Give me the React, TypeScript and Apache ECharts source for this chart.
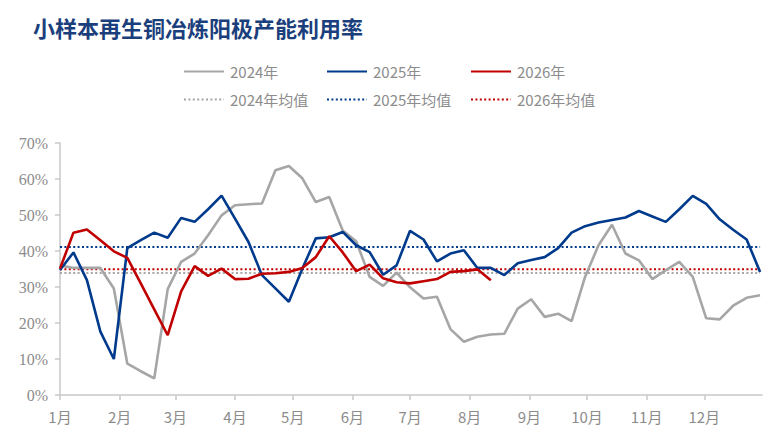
import React, { useEffect, useRef } from "react";
import * as echarts from "echarts";

const TITLE = "小样本再生铜冶炼阳极产能利用率";

const monthLabels = ["1月", "2月", "3月", "4月", "5月", "6月", "7月", "8月", "9月", "10月", "11月", "12月"];
const monthStartDays = [0, 31, 60, 91, 121, 152, 182, 213, 244, 274, 305, 335];
const yearDays = 365;

const seriesNames = ["2024年", "2025年", "2026年"];
const avgNames = ["2024年均值", "2025年均值", "2026年均值"];
const colors = ["#A6A6A6", "#003A8C", "#C00000"];

// weekly values (%), week index 0 = first week of January
const v2024 = [
  36.0, 35.3, 35.3, 35.3, 29.6, 8.7, 6.6, 4.6, 29.4, 37.0,
  39.3, 44.4, 49.9, 52.7, 53.0, 53.2, 62.4, 63.6, 60.2, 53.6,
  55.0, 45.7, 42.7, 32.8, 30.3, 34.0, 29.9, 26.8, 27.3, 18.3,
  14.8, 16.2, 16.8, 17.0, 24.0, 26.6, 21.7, 22.6, 20.5, 32.8,
  41.6, 47.3, 39.3, 37.4, 32.2, 34.7, 37.0, 32.8, 21.3, 21.0,
  24.8, 27.0, 27.7,
];
const v2025 = [
  34.7, 39.6, 31.9, 17.6, 10.0, 40.8, 43.0, 45.1, 43.7, 49.2,
  48.1, 51.6, 55.4, 49.0, 42.5, 33.3, 29.6, 25.9, 35.1, 43.5,
  43.8, 45.3, 41.6, 39.7, 33.4, 36.0, 45.6, 43.2, 37.1, 39.3,
  40.2, 35.3, 35.3, 33.3, 36.6, 37.5, 38.3, 40.8, 45.1, 46.9,
  47.9, 48.6, 49.3, 51.1, 49.6, 48.1, 51.6, 55.3, 53.1, 48.8,
  45.9, 43.2, 34.2,
];
const v2026 = [
  35.1, 45.1, 46.0, 43.0, 39.9, 38.1, 31.0, 23.8, 16.6, 28.8,
  35.8, 33.1, 35.1, 32.2, 32.3, 33.7, 33.8, 34.2, 35.3, 38.3,
  44.1, 39.6, 34.4, 36.2, 32.4, 31.3, 31.0, 31.6, 32.2, 34.2,
  34.4, 34.9, 31.9,
];
const averages = [33.9, 41.1, 34.9];

const yTicks = { min: 0, max: 70, interval: 10 };

export default function App() {
  const ref = useRef<HTMLDivElement>(null);

  useEffect(() => {
    if (!ref.current) return;
    const chart = echarts.init(ref.current, undefined, { renderer: "svg" });
    const all = [v2024, v2025, v2026];
    const lastWeek = v2024.length - 1;
    const weekMax = yearDays / 7;

    const lineSeries = all.map((vals, k) => ({
      name: seriesNames[k],
      type: "line",
      symbol: "none",
      z: 3 + k,
      data: vals.map((v, i) => [i, v]),
      lineStyle: { color: colors[k], width: 2.6 },
      itemStyle: { color: colors[k] },
    }));
    const avgSeries = averages.map((a, k) => ({
      name: avgNames[k],
      type: "line",
      symbol: "none",
      z: 2,
      data: [
        [0, a],
        [lastWeek, a],
      ],
      lineStyle: { color: colors[k], width: 2, type: [2, 2.4] },
      itemStyle: { color: colors[k] },
    }));

    const legendText = {
      color: "#8C8C8C",
      fontSize: 15,
      fontFamily: "'Noto Sans CJK SC', 'Noto Sans', sans-serif",
      padding: [0, 0, 0, 1],
    };
    const colLeft = [183, 326, 470];
    const legends: any[] = [];
    const mkLegend = (n: string, left: number, top: number) => ({
      data: [n],
      left,
      top,
      padding: 0,
      itemWidth: 40,
      itemHeight: 14,
      selectedMode: false,
      itemStyle: { opacity: 0 },
      textStyle: legendText,
    });
    seriesNames.forEach((n, k) => legends.push(mkLegend(n, colLeft[k], 64)));
    avgNames.forEach((n, k) => legends.push(mkLegend(n, colLeft[k], 92)));

    const monthTickValues = monthStartDays.map((d) => d / 7);

    chart.setOption({
      animation: false,
      backgroundColor: "#FFFFFF",
      title: {
        text: TITLE,
        left: 33,
        top: 16,
        padding: 0,
        textStyle: {
          color: "#1B3F7C",
          fontSize: 22,
          fontWeight: "bold",
          fontFamily: "'Noto Sans CJK SC', sans-serif",
        },
      },
      legend: legends,
      grid: { left: 60, right: 21, top: 143, bottom: 48, containLabel: false },
      xAxis: {
        type: "value",
        min: 0,
        max: weekMax,
        splitLine: { show: false },
        axisLine: { show: true, lineStyle: { color: "#C8C8C8", width: 1.5 } },
        axisTick: {
          show: true,
          length: 5,
          customValues: monthTickValues,
          lineStyle: { color: "#C8C8C8", width: 1.5 },
        },
        axisLabel: {
          customValues: monthTickValues,
          color: "#8C8C8C",
          fontSize: 15,
          margin: 14,
          fontFamily: "'Noto Sans CJK SC', sans-serif",
          formatter: (val: number) => {
            let best = 0;
            for (let i = 0; i < monthTickValues.length; i++) {
              if (Math.abs(monthTickValues[i] - val) < Math.abs(monthTickValues[best] - val)) best = i;
            }
            return monthLabels[best];
          },
        },
      },
      yAxis: {
        type: "value",
        min: yTicks.min,
        max: yTicks.max,
        interval: yTicks.interval,
        splitLine: { show: false },
        axisLine: { show: true, lineStyle: { color: "#C8C8C8", width: 1.5 } },
        axisTick: { show: true, length: 5, lineStyle: { color: "#C8C8C8", width: 1.5 } },
        axisLabel: {
          formatter: "{value}%",
          color: "#8C8C8C",
          fontSize: 16,
          margin: 12,
          fontFamily: "'Liberation Serif', 'DejaVu Serif', serif",
        },
      },
      series: [...avgSeries, ...lineSeries],
    });

    return () => chart.dispose();
  }, []);

  return (
    <div
      ref={ref}
      style={{ position: "fixed", left: 0, top: 0, width: 783, height: 443 }}
    />
  );
}
